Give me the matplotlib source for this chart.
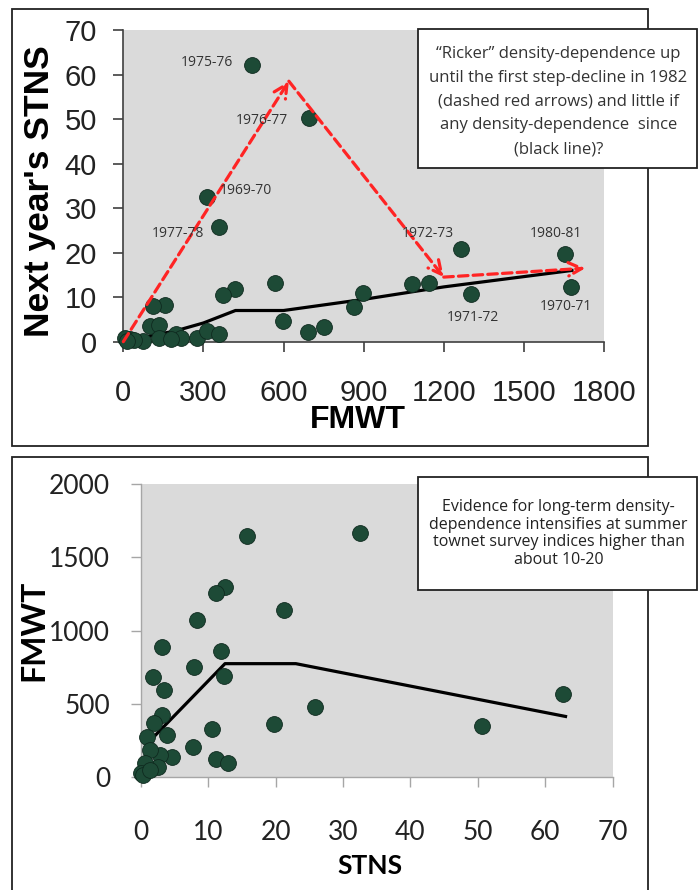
import matplotlib.pyplot as plt
import matplotlib.patches as patches

# top panel: FMWT vs next year's STNS
top_fmwt = [481, 695, 315, 358, 1263, 1655, 1675, 1303,
            1145, 1080, 899, 865, 568, 597, 690, 752, 419, 372,
            155, 110, 100, 132, 134, 198, 217, 180, 275, 312, 360,
            25, 6, 74, 40, 12]
top_stns = [62.2, 50.2, 32.4, 25.7, 20.9, 19.6, 12.2, 10.7,
            13.1, 13.0, 10.9, 7.7, 13.1, 4.6, 2.1, 3.4, 11.8, 10.5,
            8.2, 7.9, 3.5, 3.7, 0.9, 1.7, 0.9, 0.5, 0.9, 2.4, 1.8,
            0.5, 0.9, 0.1, 0.3, 0.2]
year_labels = ['1975-76', '1976-77', '1969-70', '1977-78',
               '1972-73', '1980-81', '1970-71', '1971-72']

# black piecewise line (top)
line_top_x = [0, 200, 300, 420, 600, 900, 1200, 1680]
line_top_y = [0, 2.5, 4.2, 7.0, 7.0, 9.5, 12.3, 16.0]

# red dashed "Ricker" arrows
ricker_x = [0, 620, 1200, 1730]
ricker_y = [0, 58.5, 14.5, 16.5]

# bottom panel: STNS vs FMWT
bot_stns = [15.7, 32.5, 12.5, 11.1, 21.2, 8.3, 3.1, 11.9, 7.9, 12.3,
            1.8, 3.4, 62.6, 25.9, 3.1, 19.7, 50.6, 1.9, 10.6, 3.9,
            0.9, 7.8, 4.6, 2.8, 1.4, 11.1, 13.0, 2.6, 0.6, 0.0, 0.4, 1.4]
bot_fmwt = [1645, 1664, 1295, 1259, 1141, 1073, 890, 860, 755, 688,
            684, 593, 568, 477, 422, 364, 350, 368, 327, 289,
            277, 205, 138, 152, 186, 124, 95, 73, 95, 27, 16, 50]

line_bot_x = [0, 1.5, 12.5, 23, 63]
line_bot_y = [0, 255, 775, 775, 415]

top_note = ('\u201cRicker\u201d density-dependence up\n'
            'until the first step-decline in 1982\n'
            '(dashed red arrows) and little if\n'
            'any density-dependence  since\n'
            '(black line)?')
bot_note = ('Evidence for long-term density-\n'
            'dependence intensifies at summer\n'
            'townet survey indices higher than\n'
            'about 10-20')

dot_color = '#1d4a36'
plot_bg = '#dadada'
note_font = ['Open Sans', 'DejaVu Sans']

fig = plt.figure(figsize=(6.99, 8.9), dpi=100)

# ---------------- top panel ----------------
ax1 = fig.add_axes([0.1764, 0.6161, 0.6877, 0.3502])
ax1.set_facecolor(plot_bg)
ax1.plot(line_top_x, line_top_y, color='black', lw=2.3, zorder=2,
         clip_on=False)
ax1.scatter(top_fmwt, top_stns, s=130, color=dot_color,
            edgecolors='#0f2a1f', linewidths=0.6, zorder=3, clip_on=False)

for i in range(len(ricker_x) - 1):
    ax1.annotate('', xy=(ricker_x[i + 1], ricker_y[i + 1]),
                 xytext=(ricker_x[i], ricker_y[i]),
                 arrowprops=dict(arrowstyle='->', linestyle=(0, (3, 1.6)),
                                 color='#ff2424', lw=2.3, mutation_scale=24,
                                 shrinkA=0, shrinkB=0), zorder=4)

# label offsets in pixels (dx, dy)
offsets = [(-45, 2), (-47, -2), (38, 7), (-41, -6),
           (-33, 15), (-9, 21), (-5, -19), (2, -23)]
for lab, x, y, (dx, dy) in zip(year_labels, top_fmwt, top_stns, offsets):
    ax1.annotate(lab, (x, y), xytext=(dx * 0.72, dy * 0.72),
                 textcoords='offset points', ha='center', va='center',
                 fontsize=10, color='#333333', family=note_font, zorder=5)

ax1.set_xlim(0, 1800)
ax1.set_ylim(0, 70)
ax1.set_xticks(range(0, 1801, 300))
ax1.set_yticks(range(0, 71, 10))
for sp in ['top', 'right']:
    ax1.spines[sp].set_visible(False)
for sp in ['left', 'bottom']:
    ax1.spines[sp].set_color('#404040')
    ax1.spines[sp].set_linewidth(1.2)
ax1.tick_params(axis='both', direction='out', length=7, width=1.2,
                color='#404040', labelsize=21)
ax1.tick_params(axis='x', pad=20)
ax1.tick_params(axis='y', pad=12)
for t in ax1.get_xticklabels() + ax1.get_yticklabels():
    t.set_family('Liberation Sans')
    t.set_color('#222222')

fig.text(0.056, 0.785, "Next year's STNS", rotation=90, ha='center',
         va='center', fontsize=25.5, fontweight='bold',
         family='Liberation Sans')
fig.text(0.512, 0.528, 'FMWT', ha='center', va='center', fontsize=23,
         fontweight='bold', family='Liberation Sans')

# ---------------- bottom panel ----------------
ax2 = fig.add_axes([0.2013, 0.1266, 0.6753, 0.3296])
ax2.set_facecolor(plot_bg)
ax2.plot(line_bot_x, line_bot_y, color='black', lw=2.3, zorder=2,
         clip_on=False)
ax2.scatter(bot_stns, bot_fmwt, s=130, color=dot_color,
            edgecolors='#0f2a1f', linewidths=0.6, zorder=3, clip_on=False)
ax2.set_xlim(0, 70)
ax2.set_ylim(0, 2000)
ax2.set_xticks(range(0, 71, 10))
ax2.set_yticks(range(0, 2001, 500))
for sp in ['top', 'right']:
    ax2.spines[sp].set_visible(False)
for sp in ['left', 'bottom']:
    ax2.spines[sp].set_color('#a6a6a6')
    ax2.spines[sp].set_linewidth(1.0)
ax2.tick_params(axis='both', direction='out', length=7, width=1.0,
                color='#a6a6a6', labelsize=19)
ax2.tick_params(axis='x', pad=24)
ax2.tick_params(axis='y', pad=15)
for t in ax2.get_xticklabels() + ax2.get_yticklabels():
    t.set_family(['Lato', 'DejaVu Sans'])
    t.set_color('#222222')

fig.text(0.0486, 0.292, 'FMWT', rotation=90, ha='center', va='center',
         fontsize=23, fontweight='bold', family=['Lato', 'DejaVu Sans'])
fig.text(0.529, 0.027, 'STNS', ha='center', va='center', fontsize=19,
         fontweight='bold', family=['Lato', 'DejaVu Sans'])

# ---------------- frames and note boxes ----------------
fig.patches.append(patches.Rectangle((0.0172, 0.4989), 0.9098, 0.491,
                                     transform=fig.transFigure, fill=False,
                                     edgecolor='#222222', lw=1.3))
fig.patches.append(patches.Rectangle((0.0172, -0.02), 0.9098, 0.5065,
                                     transform=fig.transFigure, fill=False,
                                     edgecolor='#222222', lw=1.3))
fig.patches.append(patches.Rectangle((0.598, 0.8112), 0.399, 0.1562,
                                     transform=fig.transFigure,
                                     facecolor='white', edgecolor='#222222',
                                     lw=1.3, zorder=5))
fig.patches.append(patches.Rectangle((0.598, 0.337), 0.399, 0.127,
                                     transform=fig.transFigure,
                                     facecolor='white', edgecolor='#222222',
                                     lw=1.3, zorder=5))
fig.text(0.799, 0.886, top_note, ha='center', va='center', fontsize=12,
         linespacing=1.65, color='#333333', family=note_font, zorder=6)
fig.text(0.799, 0.4006, bot_note, ha='center', va='center', fontsize=11.5,
         linespacing=1.15, color='#222222', family=note_font, zorder=6)

fig.savefig('out.png', dpi=100)
